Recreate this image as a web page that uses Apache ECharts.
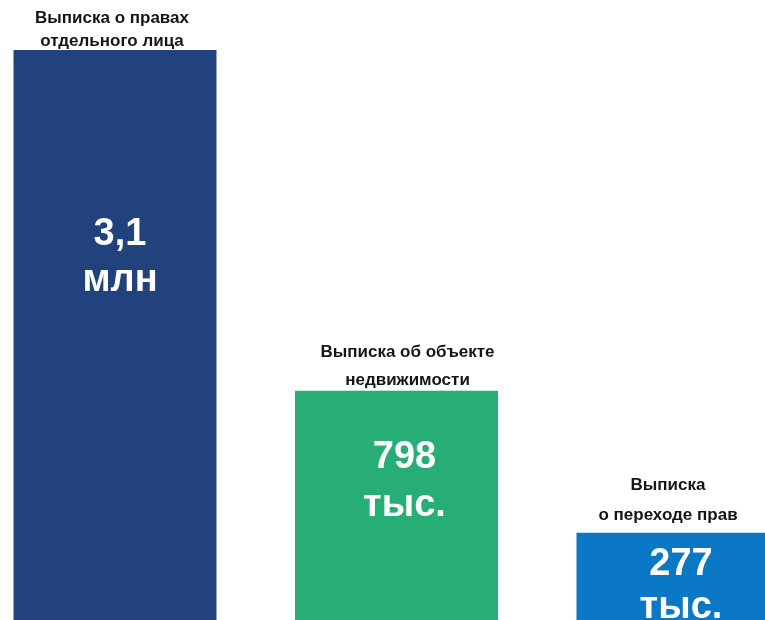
<!DOCTYPE html>
<html>
<head>
<meta charset="utf-8">
<script src="https://cdn.jsdelivr.net/npm/echarts@6/dist/echarts.min.js"></script>
<style>
  html, body { margin: 0; padding: 0; background: #fff; }
  #chart { width: 765px; height: 620px; }
</style>
</head>
<body>
<div id="chart"></div>
<script>
// данные
const categories = ['Выписка о правах\nотдельного лица', 'Выписка об объекте\nнедвижимости', 'Выписка\nо переходе прав']
// высота столбцов на картинке, % от самого высокого
const barHeights = [100, 40.2, 15.3]
const valueLabels = ['3,1\nмлн', '798\nтыс.', '277\nтыс.']
const barColors = ['#22427d', '#26ae76', '#0a78c4']

// положение подписи внутри столбца: отступ сверху, сдвиг по x, межстрочный интервал
const innerLabelStyle = [
  { y: 162, dx: 5, lineHeight: 46 },
  { y: 43, dx: 8, lineHeight: 48 },
  { y: 10, dx: 3, lineHeight: 43 }
]
const topLabelStyle = [
  { lineHeight: 23, distance: -3, dx: -3 },
  { lineHeight: 28, distance: -3, dx: 11 },
  { lineHeight: 30, distance: 2, dx: -10 }
]

const chart = echarts.init(document.getElementById('chart'))

const option = {
  animation: false,
  // boundaryGap: false — центры столбцов на краях сетки, крайний справа уходит за холст
  grid: { left: 115, right: 87, top: 50, bottom: 0, containLabel: false },
  xAxis: {
    type: 'category',
    data: categories,
    boundaryGap: false,
    show: false
  },
  yAxis: {
    type: 'value',
    min: 0,
    max: 100,
    show: false
  },
  series: [
    {
      type: 'bar',
      barWidth: 203,
      clip: false,
      data: barHeights.map((v, i) => ({
        value: v,
        itemStyle: { color: barColors[i] },
        label: {
          show: true,
          position: ['50%', innerLabelStyle[i].y],
          offset: [innerLabelStyle[i].dx, 0],
          align: 'center',
          verticalAlign: 'top',
          formatter: valueLabels[i],
          color: '#fff',
          fontFamily: 'Liberation Sans, Arial, sans-serif',
          fontWeight: 'bold',
          fontSize: 38,
          lineHeight: innerLabelStyle[i].lineHeight
        }
      }))
    },
    {
      // прозрачный дубль для подписей над столбцами
      type: 'bar',
      barWidth: 203,
      barGap: '-100%',
      clip: false,
      silent: true,
      itemStyle: { color: 'transparent' },
      data: barHeights.map((v, i) => ({
        value: v,
        label: {
          show: true,
          position: 'top',
          distance: topLabelStyle[i].distance,
          offset: [topLabelStyle[i].dx, 0],
          formatter: categories[i],
          color: '#151515',
          fontFamily: 'Liberation Sans, Arial, sans-serif',
          fontWeight: 'bold',
          fontSize: 17,
          lineHeight: topLabelStyle[i].lineHeight
        }
      }))
    }
  ]
}

chart.setOption(option)
</script>
</body>
</html>
